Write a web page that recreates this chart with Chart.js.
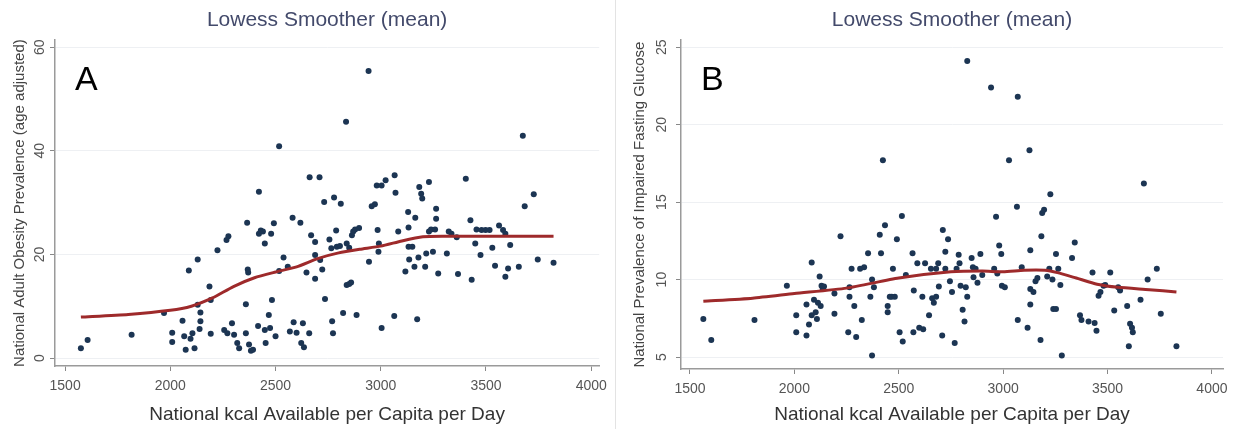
<!DOCTYPE html>
<html>
<head>
<meta charset="utf-8">
<script src="https://cdn.jsdelivr.net/npm/chart.js@4.4.1/dist/chart.umd.min.js"></script>
<style>
body { margin: 0; background: #fff; width: 1238px; height: 429px; overflow: hidden; position: relative; }
#chartA { position: absolute; left: 0; top: 0; }
#chartB { position: absolute; left: 617px; top: 0; }
#sep { position: absolute; left: 615px; top: 0; width: 1px; height: 429px; background: #e3e3e3; }
</style>
</head>
<body>
<canvas id="chartA" width="614" height="429"></canvas>
<div id="sep"></div>
<canvas id="chartB" width="621" height="429"></canvas>
<script>
// Panel A: obesity vs kcal
const kcalA = [1575,1607,1816,1970,2009,2009,2058,2066,2073,2088,2096,2105,2115,2130,2130,2139,2143,2143,2186,2192,
  2192,2224,2267,2276,2256,2271,2293,2303,2318,2327,2359,2359,2365,2368,2370,2374,2383,2393,2421,2417,
  2421,2430,2440,2449,2449,2453,2468,2474,2479,2483,2492,2500,2517,2517,2538,2558,2568,2581,2586,2600,
  2618,2622,2630,2635,2647,2660,2662,2669,2688,2688,2688,2709,2712,2722,2731,2735,2756,2765,2769,2773,
  2778,2788,2791,2806,2810,2821,2835,2838,2838,2850,2859,2850,2863,2869,2878,2885,2897,2942,2944,2957,
  2972,2981,2985,2989,2991,3004,3004,3023,3064,3066,3070,3083,3117,3130,3132,3132,3135,3150,3160,3164,
  3173,3179,3183,3192,3197,3211,3216,3229,3229,3239,3248,3258,3263,3263,3273,3314,3323,3336,3361,3367,
  3404,3426,3432,3449,3455,3474,3479,3498,3517,3530,3543,3562,3581,3592,3592,3605,3615,3656,3675,3684,
  3727,3746,3821];
const obesity = [1.9,3.5,4.5,8.7,4.9,3.1,7.2,4.2,1.6,16.9,3.7,4.8,1.9,19.0,10.3,5.6,8.8,7.1,13.8,11.2,
  4.7,20.8,22.8,23.5,5.4,4.8,6.7,4.5,2.9,1.9,10.4,4.8,26.1,17.1,16.5,2.6,1.4,1.6,32.1,6.2,
  24.0,24.6,24.4,22.1,5.4,2.9,8.3,5.8,24.0,11.2,26.0,4.2,40.9,16.8,19.4,17.6,5.1,27.1,6.9,4.9,
  26.1,2.9,6.7,2.1,16.5,4.8,34.9,23.7,22.4,19.9,15.3,34.9,18.9,17.1,30.1,11.4,22.9,21.2,7.1,4.8,
  31.0,24.6,21.5,21.6,29.8,8.7,45.6,22.1,14.1,14.3,14.6,21.3,23.7,24.4,24.8,8.3,25.1,55.4,18.6,29.3,
  29.7,33.3,24.7,20.5,22.1,5.8,33.3,34.3,8.1,35.3,31.9,24.4,16.7,28.2,25.2,21.5,19.0,21.5,17.6,27.1,
  7.5,19.4,33.0,31.7,30.8,17.6,20.2,34.0,24.4,24.8,20.5,24.8,28.8,26.9,16.3,20.2,24.4,24.0,23.3,16.2,
  34.6,26.6,15.1,22.1,24.8,19.9,24.7,24.7,24.7,21.3,17.8,25.6,24.7,24.0,15.7,17.3,21.8,17.6,42.9,29.3,
  31.6,19.0,18.4];
const lowessKcalA = [1575,1800,2000,2100,2200,2300,2400,2500,2600,2700,2800,2900,3000,3100,3200,3300,3500,3821];
const lowessA = [7.9,8.4,9.2,10.0,11.6,13.8,15.5,16.6,17.6,19.2,20.3,21.0,21.6,22.6,23.4,23.5,23.5,23.5];
const yTicksA = [0, 20, 40, 60];

// Panel B: impaired fasting glucose vs kcal
const kcalB = [1564,1602,1809,1964,2009,2009,2058,2058,2070,2083,2083,2094,2102,2108,2113,2121,2126,2130,2136,2142,
  2192,2192,2221,2258,2264,2264,2274,2287,2296,2315,2323,2334,2353,2364,2372,2372,2381,2409,2415,2424,
  2434,2447,2447,2457,2466,2472,2481,2491,2504,2515,2519,2534,2566,2572,2570,2589,2598,2613,2617,2626,
  2645,2654,2660,2668,2679,2679,2689,2692,2708,2711,2723,2723,2736,2745,2755,2768,2777,2787,2791,2796,
  2806,2815,2821,2828,2828,2849,2855,2858,2868,2877,2891,2900,2942,2957,2966,2972,2981,2991,2994,3008,
  3028,3066,3070,3070,3089,3117,3126,3130,3130,3130,3145,3155,3164,3179,3183,3187,3196,3211,3221,3226,
  3236,3240,3253,3253,3264,3274,3281,3330,3343,3368,3375,3409,3428,3438,3447,3457,3466,3481,3489,3513,
  3532,3551,3560,3594,3602,3608,3617,3621,3658,3674,3692,3736,3755,3830];
const ifg = [7.45,6.1,7.4,9.6,7.7,6.6,8.4,6.4,7.1,11.1,7.7,8.7,7.9,7.45,8.5,10.2,8.3,9.6,9.4,9.55,
  9.1,7.8,12.8,6.6,9.5,8.9,10.7,8.3,6.3,10.7,7.4,10.8,11.7,8.9,10.0,5.1,9.5,12.9,11.7,17.7,
  13.5,8.3,7.9,8.9,8.9,10.7,8.9,12.6,6.6,14.1,6.0,10.3,11.7,9.3,6.6,11.05,6.9,8.9,6.8,11.05,
  7.7,10.7,8.8,8.5,10.7,8.9,11.05,9.55,6.4,13.2,11.8,10.7,12.6,9.9,9.2,5.9,10.7,11.6,11.05,9.6,
  8.05,7.3,9.5,24.1,8.9,11.4,10.8,10.15,10.7,9.8,11.65,10.3,22.4,10.7,14.05,10.4,12.2,11.65,9.6,9.5,
  17.7,14.7,21.8,7.4,10.8,6.9,18.35,11.9,9.4,8.4,9.2,9.9,10.1,6.1,12.8,14.3,14.5,10.2,10.7,15.5,
  10.0,8.1,11.65,8.1,10.7,9.65,5.1,11.4,12.4,7.7,7.4,7.3,10.45,7.2,6.7,8.95,9.2,9.6,9.65,10.45,
  8.0,9.5,9.3,8.3,5.7,7.15,6.9,6.6,8.7,16.2,10.0,10.7,7.8,5.7];
const lowessKcalB = [1564,1800,2000,2250,2500,2750,2900,3000,3100,3200,3260,3350,3450,3550,3700,3830];
const lowessB = [8.6,8.8,9.1,9.45,10.1,10.5,10.55,10.5,10.6,10.6,10.45,10.1,9.7,9.5,9.35,9.2];
const yTicksB = [5, 10, 15, 20, 25];

const xTicks = [1500, 2000, 2500, 3000, 3500, 4000];

const FONT = '"Liberation Sans", Arial, sans-serif';
const pointColor = '#1c3553';
const lineColor = '#9e2a2b';

// draws rotated y tick labels and the panel letter
const panelText = {
  id: 'panelText',
  afterDraw(chart, args, opts) {
    const ctx = chart.ctx;
    const y = chart.scales.y;
    ctx.save();
    ctx.fillStyle = '#555';
    ctx.font = '14px ' + FONT;
    ctx.textAlign = 'center';
    ctx.textBaseline = 'middle';
    y.ticks.forEach(t => {
      ctx.save();
      ctx.translate(opts.tickX, y.getPixelForValue(t.value));
      ctx.rotate(-Math.PI / 2);
      ctx.fillText(String(t.value), 0, 0);
      ctx.restore();
    });
    ctx.fillStyle = '#000';
    ctx.font = '34px ' + FONT;
    ctx.textAlign = 'left';
    ctx.textBaseline = 'alphabetic';
    ctx.fillText(opts.letter, opts.letterX, opts.letterY);
    ctx.restore();
  }
};

function makeChart(id, p) {
  const pts = p.xs.map((x, i) => ({ x: x, y: p.ys[i] }));
  const curve = p.lx.map((x, i) => ({ x: x, y: p.ly[i] }));
  return new Chart(document.getElementById(id), {
    type: 'scatter',
    data: {
      datasets: [
        {
          type: 'line',
          data: curve,
          borderColor: lineColor,
          borderWidth: 3,
          pointRadius: 0,
          tension: 0.2,
          order: 0
        },
        {
          data: pts,
          backgroundColor: pointColor,
          borderColor: pointColor,
          pointRadius: 3,
          borderWidth: 0,
          order: 1
        }
      ]
    },
    options: {
      responsive: false,
      animation: false,
      layout: { padding: { left: 0, right: p.padRight, top: 0, bottom: 0 } },
      plugins: {
        legend: { display: false },
        tooltip: { enabled: false },
        title: {
          display: true,
          text: 'Lowess Smoother (mean)',
          fullSize: false,
          color: '#434a6b',
          font: { family: FONT, size: 21, weight: 'normal' },
          padding: { top: 8, bottom: 7 }
        },
        panelText: { letter: p.letter, letterX: p.letterX, letterY: 90, tickX: p.tickX }
      },
      scales: {
        x: {
          type: 'linear',
          min: p.xmin,
          max: p.xmax,
          afterBuildTicks: s => { s.ticks = xTicks.map(v => ({ value: v })); },
          afterFit: s => { s.height = p.xHeight; },
          grid: { drawOnChartArea: false, drawTicks: true, tickLength: 5, tickColor: '#888' },
          border: { color: '#9a9a9a', width: 1.5 },
          ticks: {
            color: '#555',
            font: { family: FONT, size: 14 },
            padding: 7,
            maxRotation: 0,
            autoSkip: false,
            callback: v => String(v)
          },
          title: {
            display: true,
            text: 'National kcal Available per Capita per Day',
            color: '#333',
            font: { family: FONT, size: 19 },
            padding: { top: 0, bottom: 3 }
          }
        },
        y: {
          type: 'linear',
          min: p.ymin,
          max: p.ymax,
          afterBuildTicks: s => { s.ticks = p.yTicks.map(v => ({ value: v })); },
          afterFit: s => { s.width = p.yWidth; },
          grid: { color: '#eef0f3', lineWidth: 1, drawTicks: true, tickLength: 5, tickColor: '#888' },
          border: { color: '#9a9a9a', width: 1.5 },
          ticks: { display: false },
          title: {
            display: true,
            text: p.yTitle,
            color: '#444',
            font: { family: FONT, size: 15 },
            padding: { top: p.yTitlePad, bottom: 0 }
          }
        }
      }
    },
    plugins: [panelText]
  });
}

makeChart('chartA', {
  xs: kcalA, ys: obesity, lx: lowessKcalA, ly: lowessA, yTicks: yTicksA,
  xmin: 1452, xmax: 4038, ymin: -1.54, ymax: 61.35,
  yWidth: 55, xHeight: 63, padRight: 14, yTitlePad: 11, tickX: 40,
  letter: 'A', letterX: 75, letterY: 90,
  yTitle: 'National Adult Obesity Prevalence (age adjusted)'
});

makeChart('chartB', {
  xs: kcalB, ys: ifg, lx: lowessKcalB, ly: lowessB, yTicks: yTicksB,
  xmin: 1457, xmax: 4053, ymin: 4.23, ymax: 25.45,
  yWidth: 64, xHeight: 60, padRight: 15, yTitlePad: 14, tickX: 45,
  letter: 'B', letterX: 84, letterY: 90,
  yTitle: 'National Prevalence of Impaired Fasting Glucose'
});
</script>
</body>
</html>
